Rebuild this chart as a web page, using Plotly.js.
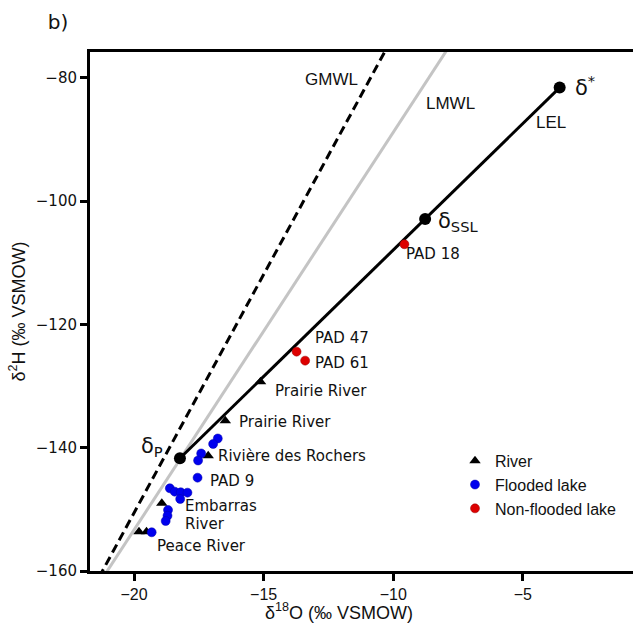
<!DOCTYPE html>
<html>
<head>
<meta charset="utf-8">
<script src="https://cdn.plot.ly/plotly-3.0.1.min.js"></script>
<style>html,body{margin:0;padding:0;background:#fff;}#chart{width:633px;height:627px;}</style>
</head>
<body>
<div id="chart"></div>
<script>
// River samples (triangles)
var riverNames = ["Prairie River", "Prairie River", "Rivière des Rochers", "Embarras River", "Peace River", "Peace River"];
var riverX = [-15.12, -16.48, -17.14, -18.93, -19.81, -19.52];
var riverY = [-129.28, -135.61, -141.29, -149.01, -153.62, -153.62];

// Flooded lakes (blue)
var floodX = [-16.77, -16.95, -17.41, -17.53, -17.55, -18.62, -18.43, -18.20, -17.94, -18.22, -18.69, -18.71, -18.78, -19.32];
var floodY = [-138.50, -139.39, -140.93, -142.07, -144.86, -146.58, -147.13, -147.23, -147.29, -148.32, -150.10, -151.03, -151.89, -153.72];

// Non-flooded lakes (red)
var nonFloodNames = ["PAD 18", "PAD 47", "PAD 61"];
var nonFloodX = [-9.57, -13.73, -13.40];
var nonFloodY = [-106.99, -124.41, -125.87];

// Key points on the LEL: delta_P, delta_SSL, delta*
var keyNames = ["δP", "δSSL", "δ*"];
var keyX = [-18.23, -8.77, -3.58];
var keyY = [-141.71, -102.88, -81.57];

// Meteoric water lines (end points)
var gmwlX = [-21.35, -10.10];
var gmwlY = [-161, -74];
var lmwlX = [-21.19, -7.70];
var lmwlY = [-161, -74];

// Axis ticks
var xTicks = [-20, -15, -10, -5];
var yTicks = [-160, -140, -120, -100, -80];

var DJ = "DejaVu Sans, Verdana, sans-serif";
var AR = "Liberation Sans, Arial, sans-serif";

var traces = [
  {x: gmwlX, y: gmwlY, mode: "lines", line: {color: "#000", width: 3, dash: "9px,5px"}, showlegend: false, hoverinfo: "skip"},
  {x: lmwlX, y: lmwlY, mode: "lines", line: {color: "#c4c4c4", width: 3}, showlegend: false, hoverinfo: "skip"},
  {x: keyX, y: keyY, text: keyNames, mode: "lines+markers", line: {color: "#000", width: 3},
   marker: {color: "#000", size: 12}, showlegend: false},
  {x: riverX, y: riverY, text: riverNames, name: "River", mode: "markers",
   marker: {symbol: "triangle-up", color: "#000", size: 10}},
  {x: floodX, y: floodY, name: "Flooded lake", mode: "markers",
   marker: {color: "#0000ee", size: 9, line: {color: "#0000aa", width: 0.5}}},
  {x: nonFloodX, y: nonFloodY, text: nonFloodNames, name: "Non-flooded lake", mode: "markers",
   marker: {color: "#dd0000", size: 9, line: {color: "#990000", width: 0.5}}}
];

function lab(text, x, y, opts) {
  var a = {text: text, x: x, y: y, xref: "x", yref: "y", showarrow: false,
           xanchor: "left", yanchor: "middle", font: {family: DJ, size: 15, color: "#111"}};
  if (opts) for (var k in opts) a[k] = opts[k];
  return a;
}

var annotations = [
  lab("GMWL", -12.40, -80.3, {xanchor: "center", font: {family: AR, size: 17, color: "#111"}}),
  lab("LMWL", -7.80, -84.1, {xanchor: "center", font: {family: AR, size: 17, color: "#111"}}),
  lab("LEL", -3.93, -87.25, {xanchor: "center", font: {family: AR, size: 17, color: "#111"}}),
  lab("δ<sup>*</sup>", -3.05, -81.3, {font: {family: DJ, size: 21, color: "#111"}}),
  lab("δ<sub>SSL</sub>", -8.37, -103.3, {font: {family: DJ, size: 21, color: "#111"}}),
  lab("δ<sub>P</sub>", -18.80, -139.9, {xanchor: "right", font: {family: DJ, size: 21, color: "#111"}}),
  lab("PAD 18", -9.57, -108.6),
  lab("PAD 47", -13.11, -122.24),
  lab("PAD 61", -13.11, -126.3),
  lab("Prairie River", -14.63, -130.74),
  lab("Prairie River", -16.01, -135.77),
  lab("Rivière des Rochers", -16.84, -141.34),
  lab("PAD 9", -17.13, -145.35),
  lab("Embarras", -18.13, -149.5),
  lab("River", -18.13, -152.35),
  lab("Peace River", -19.19, -155.89),
  {text: "δ<sup>18</sup>O (‰ VSMOW)", xref: "paper", yref: "paper", x: (339 - 90) / 543, y: -(611 - 571) / 519,
   xanchor: "center", yanchor: "middle", showarrow: false, font: {family: AR, size: 18, color: "#111"}}
];

var layout = {
  width: 633, height: 627,
  margin: {l: 90, r: 0, t: 52, b: 56},
  paper_bgcolor: "#fff", plot_bgcolor: "#fff",
  title: {text: "b)", xref: "container", yref: "container", x: 58 / 633, y: 1 - 22 / 627,
          xanchor: "center", yanchor: "middle", font: {family: DJ, size: 20, color: "#111"}},
  xaxis: {range: [-21.7, -0.75], tickvals: xTicks, ticks: "outside", ticklen: 7, tickwidth: 3,
          tickcolor: "#000", showline: true, linewidth: 3, linecolor: "#000", mirror: true,
          showgrid: false, zeroline: false, tickfont: {family: AR, size: 16, color: "#111"}},
  yaxis: {range: [-160, -75.8], tickvals: yTicks, ticks: "outside", ticklen: 7, tickwidth: 3,
          tickcolor: "#000", showline: true, linewidth: 3, linecolor: "#000", mirror: false,
          showgrid: false, zeroline: false, tickfont: {family: DJ, size: 15, color: "#111"},
          title: {text: "δ<sup>2</sup>H (‰ VSMOW)", standoff: 6, font: {family: AR, size: 18, color: "#111"}}},
  legend: {x: (455 - 90) / 543, y: 0.245, xanchor: "left", yanchor: "top", bgcolor: "rgba(0,0,0,0)",
           font: {family: AR, size: 16, color: "#111"}, itemwidth: 30},
  annotations: annotations,
  showlegend: true
};

Plotly.newPlot("chart", traces, layout, {displayModeBar: false, staticPlot: true});
</script>
</body>
</html>
